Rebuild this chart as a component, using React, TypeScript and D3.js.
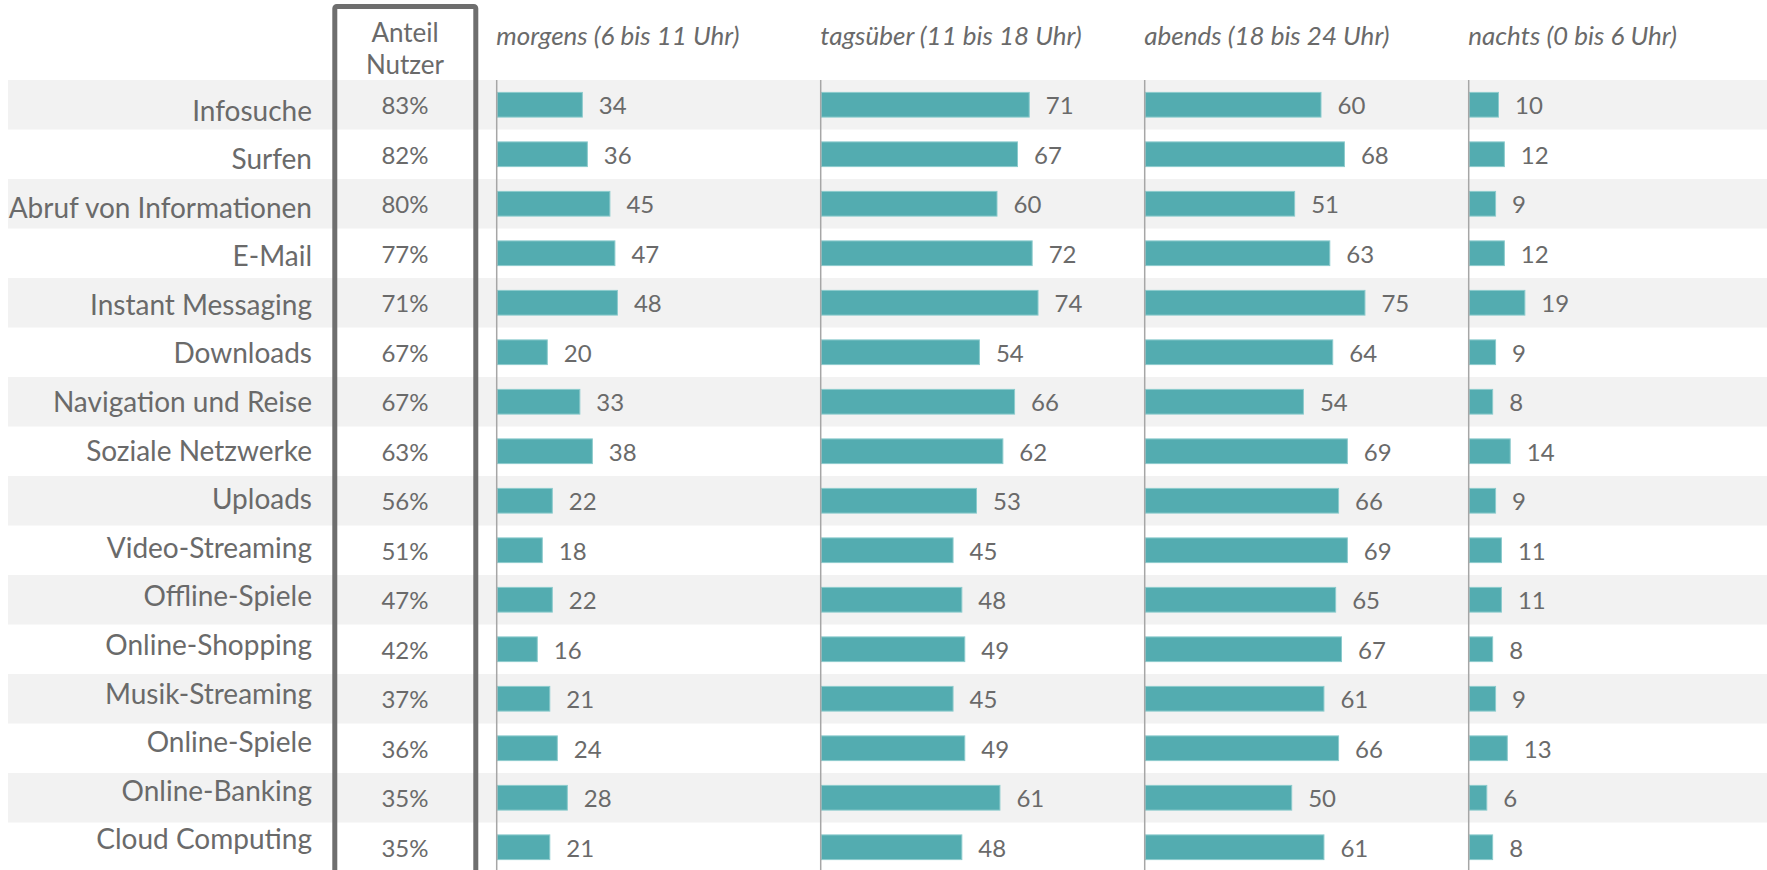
import React from "react";
import * as d3 from "d3";

const categories: string[] = [
  "Infosuche",
  "Surfen",
  "Abruf von Informationen",
  "E-Mail",
  "Instant Messaging",
  "Downloads",
  "Navigation und Reise",
  "Soziale Netzwerke",
  "Uploads",
  "Video-Streaming",
  "Offline-Spiele",
  "Online-Shopping",
  "Musik-Streaming",
  "Online-Spiele",
  "Online-Banking",
  "Cloud Computing",
];

const userShare: number[] = [83, 82, 80, 77, 71, 67, 67, 63, 56, 51, 47, 42, 37, 36, 35, 35];

const morgens: number[] = [34, 36, 45, 47, 48, 20, 33, 38, 22, 18, 22, 16, 21, 24, 28, 21];
const tagsueber: number[] = [71, 67, 60, 72, 74, 54, 66, 62, 53, 45, 48, 49, 45, 49, 61, 48];
const abends: number[] = [60, 68, 51, 63, 75, 64, 54, 69, 66, 69, 65, 67, 61, 66, 50, 61];
const nachts: number[] = [10, 12, 9, 12, 19, 9, 8, 14, 9, 11, 11, 8, 9, 13, 6, 8];

const periodLabels: string[] = [
  "morgens (6 bis 11 Uhr)",
  "tagsüber (11 bis 18 Uhr)",
  "abends (18 bis 24 Uhr)",
  "nachts (0 bis 6 Uhr)",
];
const periodValues: number[][] = [morgens, tagsueber, abends, nachts];
const periodAxisMax: number[] = [117, 100, 100, 100];

const shareHeader: string[] = ["Anteil", "Nutzer"];

const W = 1767;
const H = 870;
const FONT = "Lato, 'Open Sans', sans-serif";
const TEXT = "#6a6a6a";
const BAR = "#53acb0";
const BAR_EDGE = "#8ccbcd";
const STRIPE = "#f2f2f2";

export default function App() {
  const rowScale = d3
    .scaleBand<string>()
    .domain(categories)
    .range([80, 80 + 49.5 * categories.length])
    .paddingInner(0)
    .paddingOuter(0);

  const labelScale = d3.scalePoint<string>().domain(categories).range([120.5, 849.3]);

  const panelScale = d3
    .scaleBand<string>()
    .domain(periodLabels)
    .range([496.7, 496.7 + 324 * periodLabels.length])
    .paddingInner(0)
    .paddingOuter(0);

  const panelWidth = 293;
  const barH = 24.7;
  const rowH = rowScale.bandwidth();

  return (
    <svg
      width={W}
      height={H}
      style={{ position: "absolute", left: 0, top: 0, display: "block" }}
      fontFamily={FONT}
    >
      <rect x={0} y={0} width={W} height={H} fill="#ffffff" />
      {categories.map((c, i) =>
        i % 2 === 0 ? (
          <rect
            key={"s" + c}
            x={8}
            y={rowScale(c)!}
            width={W - 8}
            height={rowH}
            fill={STRIPE}
          />
        ) : null
      )}

      {categories.map((c) => (
        <text
          key={"l" + c}
          x={312}
          y={labelScale(c)!}
          textAnchor="end"
          fontSize={28}
          fill={TEXT}
        >
          {c}
        </text>
      ))}

      {shareHeader.map((t, i) => (
        <text
          key={"h" + t}
          x={405}
          y={42.3 + i * 31.7}
          textAnchor="middle"
          fontSize={26}
          fill={TEXT}
        >
          {t}
        </text>
      ))}

      {categories.map((c, i) => (
        <text
          key={"p" + c}
          x={405}
          y={rowScale(c)! + rowH / 2 + 9.5}
          textAnchor="middle"
          fontSize={24}
          fill={TEXT}
        >
          {d3.format("d")(userShare[i]) + "%"}
        </text>
      ))}

      <rect
        x={334.8}
        y={6.5}
        width={141}
        height={H + 20}
        rx={2}
        fill="none"
        stroke="#6e6e6e"
        strokeWidth={5}
      />

      {periodLabels.map((p, k) => {
        const x0 = panelScale(p)!;
        const xs = d3.scaleLinear().domain([0, periodAxisMax[k]]).range([0, panelWidth]);
        const vals = periodValues[k];
        return (
          <g key={"g" + p}>
            <text
              x={x0 - 0.5}
              y={45}
              fontSize={26}
              fontStyle="italic"
              fill={TEXT}
            >
              {p}
            </text>
            {categories.map((c, i) => {
              const cy = rowScale(c)! + rowH / 2;
              const w = xs(vals[i]);
              return (
                <g key={"b" + p + c}>
                  <rect
                    x={x0 + 0.5}
                    y={cy - barH / 2}
                    width={w}
                    height={barH}
                    fill={BAR}
                    stroke={BAR_EDGE}
                    strokeWidth={1}
                  />
                  <text
                    x={x0 + w + 17}
                    y={cy + 9.5}
                    fontSize={24}
                    fill={TEXT}
                  >
                    {vals[i]}
                  </text>
                </g>
              );
            })}
            <line
              x1={x0}
              x2={x0}
              y1={80}
              y2={H}
              stroke="#a6a6a6"
              strokeWidth={1.5}
            />
          </g>
        );
      })}
    </svg>
  );
}
